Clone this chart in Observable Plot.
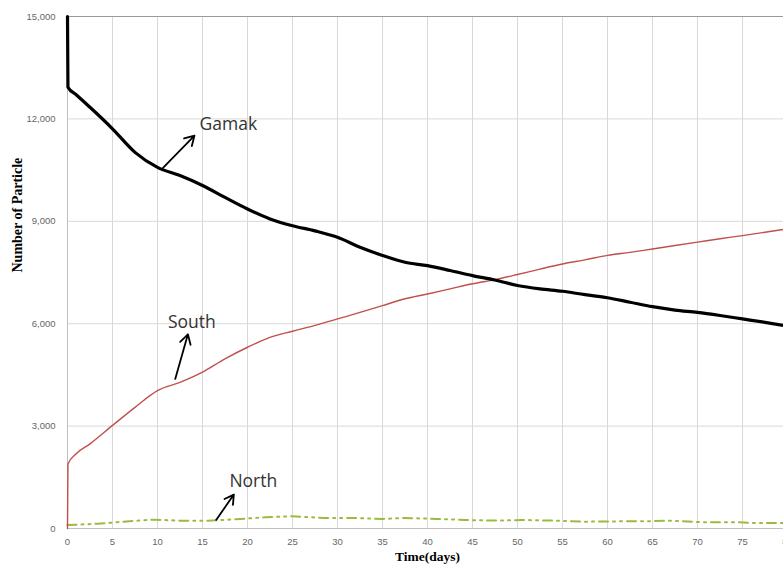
<!DOCTYPE html>
<html><head><meta charset="utf-8">
<script src="https://cdn.jsdelivr.net/npm/d3@7"></script>
<script src="https://cdn.jsdelivr.net/npm/@observablehq/plot@0.6"></script>
<style>
html,body{margin:0;padding:0;overflow:hidden;background:#fff}
#chart svg{max-width:none !important;width:800px !important;height:568px !important;display:block}
</style>
</head><body><div id="chart"></div>
<script>
// ---- data ----
const gamakDays   = [0, 0.05, 1, 2.5, 5, 7.5, 10, 12.5, 15, 17.5, 20, 22.5, 25, 27.5, 30, 32.5, 35, 37.5, 40, 42.5, 45, 47.5, 50, 52.5, 55, 57.5, 60, 62.5, 65, 67.5, 70, 72.5, 75, 77.5, 80];
const gamakValues = [15000, 12930, 12700, 12340, 11710, 11020, 10580, 10340, 10050, 9700, 9360, 9070, 8870, 8720, 8530, 8240, 8000, 7800, 7700, 7560, 7410, 7280, 7120, 7020, 6950, 6850, 6760, 6630, 6500, 6400, 6330, 6240, 6140, 6040, 5930];

const southDays   = [0, 0.05, 1, 2.5, 5, 7.5, 10, 12.5, 15, 17.5, 20, 22.5, 25, 27.5, 30, 32.5, 35, 37.5, 40, 42.5, 45, 47.5, 50, 52.5, 55, 57.5, 60, 62.5, 65, 67.5, 70, 72.5, 75, 77.5, 80];
const southValues = [0, 1890, 2200, 2480, 3020, 3550, 4040, 4280, 4580, 4970, 5310, 5600, 5780, 5950, 6140, 6330, 6530, 6730, 6870, 7020, 7170, 7290, 7440, 7600, 7750, 7870, 8000, 8090, 8190, 8290, 8390, 8490, 8580, 8680, 8780];

const northDays   = [0, 3.4, 6.2, 9.5, 12.5, 15.6, 18.7, 22, 25, 28.5, 31.7, 35, 37.4, 41, 44.2, 47.9, 50.5, 54, 57.6, 61.7, 64, 67, 70.8, 74.7, 76.5, 78.7, 80];
const northValues = [100, 140, 200, 260, 230, 230, 270, 330, 360, 310, 310, 280, 310, 280, 250, 230, 250, 230, 200, 210, 210, 230, 180, 180, 160, 160, 160];

const xTicks = [0, 5, 10, 15, 20, 25, 30, 35, 40, 45, 50, 55, 60, 65, 70, 75, 80];
const yTicks = [0, 3000, 6000, 9000, 12000, 15000];

const labelNames  = ["Gamak", "South", "North"];
const labelDays   = [14.67, 11.16, 17.99];
const labelValues = [11825, 6042, 1374];
const arrowFromDays   = [10.61, 11.97, 16.52];
const arrowFromValues = [10565, 4383, 252];
const arrowToDays     = [14.11, 13.38, 18.48];
const arrowToValues   = [11512, 5689, 993];

// ---- tables ----
const gamak = gamakDays.map((d, i) => ({day: d, value: gamakValues[i]}));
const south = southDays.map((d, i) => ({day: d, value: southValues[i]}));
const north = northDays.map((d, i) => ({day: d, value: northValues[i]}));
const labels = labelNames.map((n, i) => ({name: n, day: labelDays[i], value: labelValues[i]}));
const arrows = labelNames.map((n, i) => ({x1: arrowFromDays[i], y1: arrowFromValues[i], x2: arrowToDays[i], y2: arrowToValues[i]}));

const tickFont = {fontFamily: "Liberation Sans, Arial, sans-serif", fontSize: 9.5, fill: "#666"};

const chart = Plot.plot({
  width: 800,
  height: 568,
  marginLeft: 67,
  marginRight: 13,
  marginTop: 16,
  marginBottom: 40,
  style: {background: "#fff", overflow: "visible"},
  x: {domain: [0, 80]},
  y: {domain: [0, 15000]},
  marks: [
    Plot.gridX(xTicks, {stroke: "#d9d9d9", strokeOpacity: 1, strokeWidth: 1}),
    Plot.gridY(yTicks, {stroke: "#d9d9d9", strokeOpacity: 1, strokeWidth: 1}),
    Plot.ruleY([15000], {stroke: "#9a9a9a", strokeWidth: 1}),
    Plot.ruleY([0], {stroke: "#bfbfbf", strokeWidth: 1}),
    Plot.ruleX([0], {stroke: "#bfbfbf", strokeWidth: 1}),
    Plot.axisX({ticks: xTicks, tickSize: 0, tickPadding: 10, label: null, ...tickFont}),
    Plot.axisY({ticks: yTicks, tickSize: 0, tickPadding: 12, tickFormat: d3.format(","), label: null, ...tickFont}),
    Plot.line(north, {x: "day", y: "value", stroke: "#9bbb3f", strokeWidth: 2, strokeDasharray: "9,5,2,5,2,5"}),
    Plot.line(south, {x: "day", y: "value", stroke: "#c0504d", strokeWidth: 1.4, curve: "monotone-x"}),
    Plot.line(gamak, {x: "day", y: "value", stroke: "#000", strokeWidth: 3.2, curve: "monotone-x"}),
    Plot.arrow(arrows, {x1: "x1", y1: "y1", x2: "x2", y2: "y2", stroke: "#000", strokeWidth: 1.8, headLength: 9}),
    Plot.text(labels, {x: "day", y: "value", text: "name", textAnchor: "start", lineAnchor: "middle",
      fontFamily: "Open Sans, sans-serif", fontSize: 17.5, fill: "#333"}),
    Plot.text(["Time(days)"], {frameAnchor: "bottom", dy: 32, fontFamily: "Liberation Serif, serif", fontWeight: "bold", fontSize: 13.5, fill: "#000"}),
    Plot.text(["Number of Particle"], {frameAnchor: "left", dx: -50, rotate: -90, fontFamily: "Liberation Serif, serif", fontWeight: "bold", fontSize: 14, fill: "#000"})
  ]
});
document.getElementById("chart").appendChild(chart);
</script>
</body></html>
